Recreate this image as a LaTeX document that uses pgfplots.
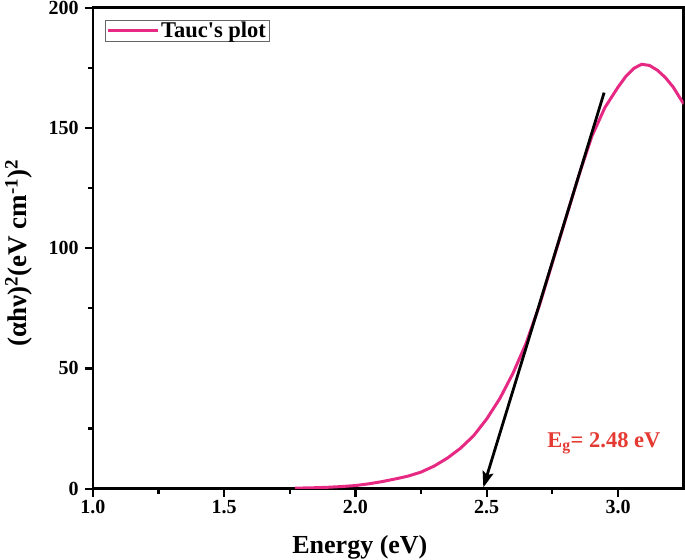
\documentclass[border=0pt]{standalone}
\usepackage{pgfplots}
\pgfplotsset{compat=1.18}
\usepackage{fontspec}
\setmainfont{Liberation Serif}
\usetikzlibrary{arrows.meta}
\definecolor{taucpink}{RGB}{230,42,132}
\definecolor{egred}{RGB}{228,58,50}
\begin{document}
\begin{tikzpicture}
\begin{axis}[
  scale only axis,
  width=591pt, height=481pt,
  xmin=1.0, xmax=3.25, ymin=0, ymax=200,
  xtick={1.0,1.5,2.0,2.5,3.0},
  ytick={0,50,100,150,200},
  minor x tick num=1, minor y tick num=1,
  xtick pos=bottom, ytick pos=left,
  tick align=outside,
  major tick length=8pt, minor tick length=5pt,
  tick style={black, line width=2.2pt},
  minor tick style={black, line width=2.2pt},
  axis line style={line width=2.6pt},
  /pgf/number format/assume math mode=true,
  x tick label style={font=\bfseries\fontsize{20}{20}\selectfont, /pgf/number format/.cd, fixed, fixed zerofill, precision=1},
  y tick label style={font=\bfseries\fontsize{20}{20}\selectfont, inner sep=1pt, xshift=-5pt},
  xlabel={Energy (eV)},
  ylabel={(αhν)\textsuperscript{2}(eV cm\textsuperscript{-1})\textsuperscript{2}},
  xlabel style={font=\bfseries\fontsize{26}{26}\selectfont, at={(axis description cs:0.452,0)}, anchor=base, yshift=-65pt, inner sep=0pt},
  ylabel style={font=\bfseries\fontsize{27}{27}\selectfont, at={(axis description cs:-0.1574,0.49)}, anchor=north, inner sep=5pt},
  legend style={at={(axis description cs:0.0203,0.975)}, anchor=north west, draw=black!60, line width=0.6pt, font=\bfseries\fontsize{22.5}{22.5}\selectfont, inner xsep=1pt, inner ysep=0pt, /tikz/every even column/.append style={column sep=6pt}},
  legend image code/.code={\draw[#1] (0pt,0pt) -- (50pt,0pt);},
]
\addplot[taucpink, line width=3pt] coordinates {
(1.77,0.2) (1.85,0.4) (1.90,0.6) (1.95,0.9) (2.00,1.3) (2.05,2.0) (2.10,2.9)
(2.15,4.0) (2.20,5.2) (2.25,6.9) (2.30,9.4) (2.35,12.7) (2.40,16.8) (2.45,22.0)
(2.50,29.0) (2.55,37.5) (2.60,48.0) (2.65,60.5) (2.70,76) (2.75,94) (2.80,112)
(2.85,130) (2.90,146.5) (2.95,158.5) (3.00,167) (3.03,171.5) (3.06,174.8) (3.09,176.5)
(3.12,176) (3.15,174) (3.18,171) (3.21,167) (3.23,163.5) (3.25,160)
};
\addlegendentry{Tauc\textquotesingle s plot}
\addplot[black, line width=2.8pt, -{Stealth[length=16pt, width=11pt, inset=3pt]}, forget plot] coordinates {(2.947,164.7) (2.487,0.5)};
\node[anchor=base west, text=egred, font=\bfseries\fontsize{22.5}{22.5}\selectfont, inner sep=0pt] at (axis cs:2.73,17) {E\textsubscript{g}= 2.48 eV};
\end{axis}
\end{tikzpicture}
\end{document}
